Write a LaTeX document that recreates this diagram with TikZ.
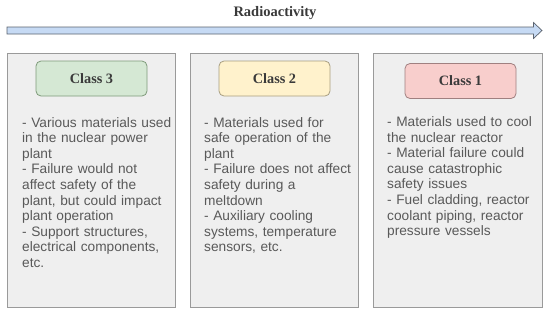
\documentclass[tikz,border=0pt]{standalone}
\usepackage{fontspec}
\setmainfont{Liberation Sans}
\newfontfamily\serifbold{Liberation Serif}
\definecolor{panelfill}{HTML}{EFEFEF}
\definecolor{paneldraw}{HTML}{9A9A9A}
\definecolor{panelshade}{HTML}{C8C8C8}
\definecolor{txtgray}{HTML}{595959}
\definecolor{headgray}{HTML}{3A3A3A}
\definecolor{arrowfill}{HTML}{C6DAF4}
\definecolor{arrowdraw}{HTML}{5C6470}
\definecolor{gfill}{HTML}{D5E8D4}
\definecolor{gdraw}{HTML}{7E9A7A}
\definecolor{yfill}{HTML}{FFF2CC}
\definecolor{ydraw}{HTML}{A89E80}
\definecolor{rfill}{HTML}{F8CECC}
\definecolor{rdraw}{HTML}{A08080}
\begin{document}
\begin{tikzpicture}[x=1pt,y=-1pt,
  panel/.style={draw=paneldraw, fill=panelfill, line width=0.9pt, anchor=north west, inner sep=0pt},
  shade/.style={fill=panelshade, draw=none, anchor=north west, inner sep=0pt},
  pill/.style={rounded corners=5pt, line width=0.8pt, minimum width=111pt, minimum height=35pt, inner sep=0pt,
     font=\serifbold\bfseries\fontsize{14.3}{16}\selectfont, text=headgray},
  body/.style={anchor=base west, inner sep=0pt, align=left, text width=160pt, text=txtgray,
     font=\fontsize{13.7}{15.6}\selectfont}]
\useasboundingbox (0,0) rectangle (550,317);
\fill[white] (0,0) rectangle (550,317);
% title
\node[anchor=base, inner sep=0pt, font=\serifbold\bfseries\fontsize{14.5}{16}\selectfont, text=headgray] (title) at (275,16.7) {Radioactivity};
% arrow
\draw[fill=arrowfill, draw=arrowdraw, line width=0.7pt, line join=miter]
  (7,27) -- (533.5,27) -- (533.5,22.5) -- (542,30.5) -- (533.5,38.5) -- (533.5,34) -- (7,34) -- cycle;
% panel shadows
\node[shade, minimum width=168pt, minimum height=254pt] (s3) at (8.2,53.8) {};
\node[shade, minimum width=168pt, minimum height=254pt] (s2) at (191.2,53.8) {};
\node[shade, minimum width=169pt, minimum height=254pt] (s1) at (374.2,53.8) {};
% panels
\node[panel, minimum width=168pt, minimum height=254pt] (p3) at (7,52.5) {};
\node[panel, minimum width=168pt, minimum height=254pt] (p2) at (190,52.5) {};
\node[panel, minimum width=169pt, minimum height=254pt] (p1) at (373,52.5) {};
% pills
\node[pill, fill=gfill, draw=gdraw] (c3) at (91.5,78.5) {Class 3};
\node[pill, fill=yfill, draw=ydraw] (c2) at (274.5,78.5) {Class 2};
\node[pill, fill=rfill, draw=rdraw] (c1) at (460.5,81) {Class 1};
% texts
\node[body] (t3) at (22,127) {- Various materials used\\in the nuclear power\\plant\\- Failure would not\\affect safety of the\\plant, but could impact\\plant operation\\- Support structures,\\electrical components,\\etc.};
\node[body] (t2) at (204,127) {- Materials used for\\safe operation of the\\plant\\- Failure does not affect\\safety during a\\meltdown\\- Auxiliary cooling\\systems, temperature\\sensors, etc.};
\node[body] (t1) at (387,126.5) {- Materials used to cool\\the nuclear reactor\\- Material failure could\\cause catastrophic\\safety issues\\- Fuel cladding, reactor\\coolant piping, reactor\\pressure vessels};
\end{tikzpicture}
\end{document}
